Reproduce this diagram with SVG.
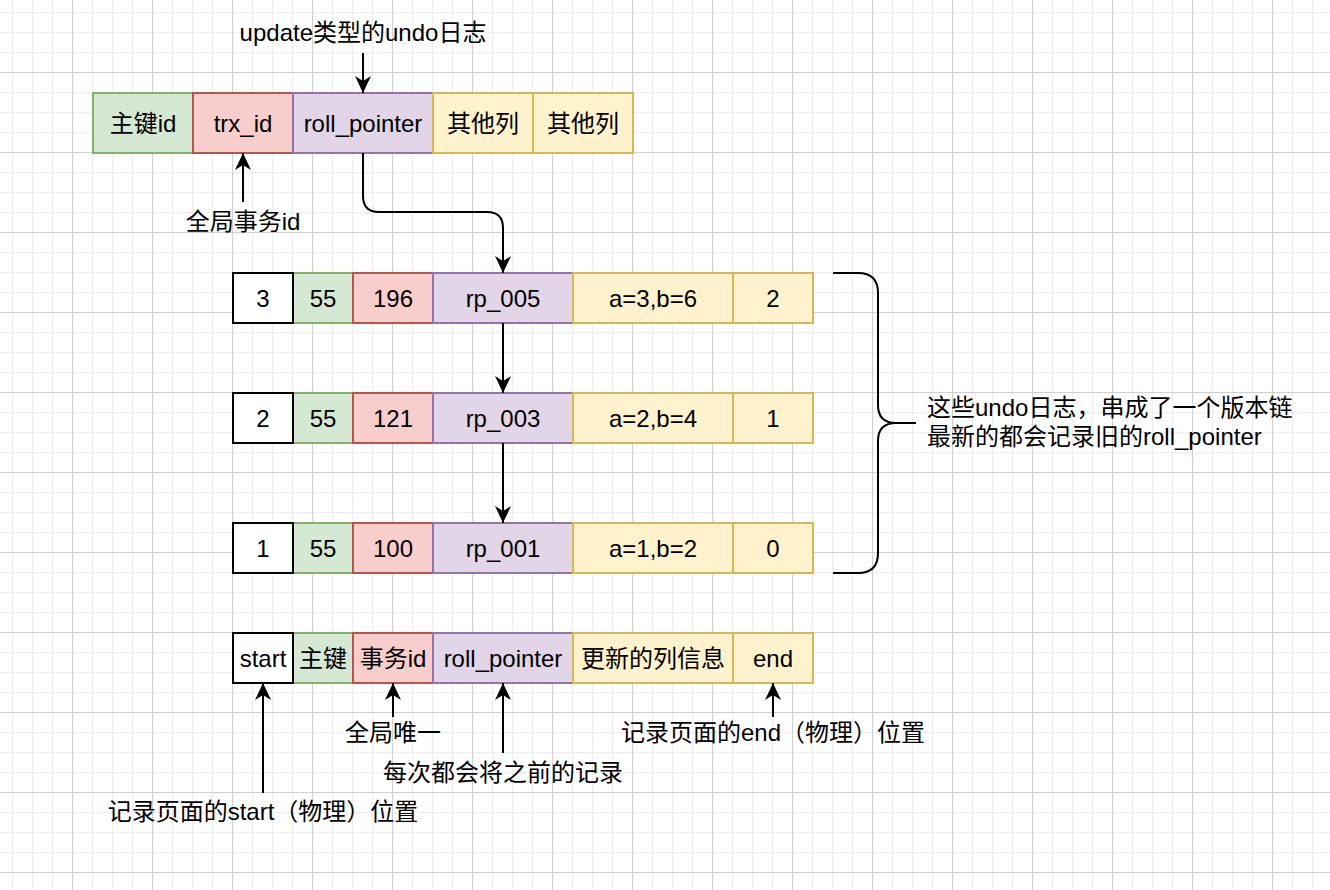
<svg xmlns="http://www.w3.org/2000/svg" width="1330" height="890" viewBox="0 0 1330 890">
<style>
text{font-family:"Liberation Sans","Noto Sans CJK SC",sans-serif;font-size:24px;fill:#000}
.c{text-anchor:middle}
.g rect{stroke-width:2}
.grn{fill:#d5e8d4;stroke:#82b366}
.red{fill:#f8cecc;stroke:#b85450}
.pur{fill:#e1d5e7;stroke:#9673a6}
.yel{fill:#fff2cc;stroke:#d6b656}
.wht{fill:#ffffff;stroke:#000000}
.conn path{fill:none;stroke:#000;stroke-width:2}
.arr{marker-end:url(#ah)}
</style>
<defs>
<pattern id="minor" x="12" y="12" width="20" height="20" patternUnits="userSpaceOnUse">
<path d="M0.5,0 V20 M0,0.5 H20" stroke="#efefef" stroke-width="1.5" fill="none"/>
</pattern>
<pattern id="major" x="72" y="72" width="80" height="80" patternUnits="userSpaceOnUse">
<path d="M0.5,0 V80 M0,0.5 H80" stroke="#d0d0d0" stroke-width="1" fill="none"/>
</pattern>
<marker id="ah" viewBox="0 0 17 16" refX="17" refY="8" markerWidth="17" markerHeight="16" markerUnits="userSpaceOnUse" orient="auto">
<path d="M0,0 L17,8 L0,16 L5,8 Z" fill="#000"/>
</marker>
</defs>
<rect width="1330" height="890" fill="#ffffff"/>
<rect width="1330" height="890" fill="url(#minor)"/>
<rect width="1330" height="890" fill="url(#major)"/>

<!-- top row -->
<g class="g" id="top-pk"><rect class="grn" x="93" y="93" width="100" height="60"/><text class="c" x="143" y="132">主键id</text></g>
<g class="g" id="top-trx"><rect class="red" x="193" y="93" width="100" height="60"/><text class="c" x="243" y="132">trx_id</text></g>
<g class="g" id="top-rp"><rect class="pur" x="293" y="93" width="140" height="60"/><text class="c" x="363" y="132">roll_pointer</text></g>
<g class="g" id="top-o1"><rect class="yel" x="433" y="93" width="100" height="60"/><text class="c" x="483" y="132">其他列</text></g>
<g class="g" id="top-o2"><rect class="yel" x="533" y="93" width="100" height="60"/><text class="c" x="583" y="132">其他列</text></g>

<g id="lbl-update"><text class="c" x="363" y="41">update类型的undo日志</text></g>
<g id="lbl-global-trx"><text class="c" x="243" y="230">全局事务id</text></g>

<!-- row 3 -->
<g class="g" id="r3-pk"><rect class="grn" x="293" y="273" width="60" height="50"/><text class="c" x="323" y="307">55</text></g>
<g class="g" id="r3-trx"><rect class="red" x="353" y="273" width="80" height="50"/><text class="c" x="393" y="307">196</text></g>
<g class="g" id="r3-rp"><rect class="pur" x="433" y="273" width="140" height="50"/><text class="c" x="503" y="307">rp_005</text></g>
<g class="g" id="r3-cols"><rect class="yel" x="573" y="273" width="160" height="50"/><text class="c" x="653" y="307">a=3,b=6</text></g>
<g class="g" id="r3-end"><rect class="yel" x="733" y="273" width="80" height="50"/><text class="c" x="773" y="307">2</text></g>
<g class="g" id="r3-start"><rect class="wht" x="233" y="273" width="60" height="50"/><text class="c" x="263" y="307">3</text></g>

<!-- row 2 -->
<g class="g" id="r2-pk"><rect class="grn" x="293" y="393" width="60" height="50"/><text class="c" x="323" y="427">55</text></g>
<g class="g" id="r2-trx"><rect class="red" x="353" y="393" width="80" height="50"/><text class="c" x="393" y="427">121</text></g>
<g class="g" id="r2-rp"><rect class="pur" x="433" y="393" width="140" height="50"/><text class="c" x="503" y="427">rp_003</text></g>
<g class="g" id="r2-cols"><rect class="yel" x="573" y="393" width="160" height="50"/><text class="c" x="653" y="427">a=2,b=4</text></g>
<g class="g" id="r2-end"><rect class="yel" x="733" y="393" width="80" height="50"/><text class="c" x="773" y="427">1</text></g>
<g class="g" id="r2-start"><rect class="wht" x="233" y="393" width="60" height="50"/><text class="c" x="263" y="427">2</text></g>

<!-- row 1 -->
<g class="g" id="r1-pk"><rect class="grn" x="293" y="523" width="60" height="50"/><text class="c" x="323" y="557">55</text></g>
<g class="g" id="r1-trx"><rect class="red" x="353" y="523" width="80" height="50"/><text class="c" x="393" y="557">100</text></g>
<g class="g" id="r1-rp"><rect class="pur" x="433" y="523" width="140" height="50"/><text class="c" x="503" y="557">rp_001</text></g>
<g class="g" id="r1-cols"><rect class="yel" x="573" y="523" width="160" height="50"/><text class="c" x="653" y="557">a=1,b=2</text></g>
<g class="g" id="r1-end"><rect class="yel" x="733" y="523" width="80" height="50"/><text class="c" x="773" y="557">0</text></g>
<g class="g" id="r1-start"><rect class="wht" x="233" y="523" width="60" height="50"/><text class="c" x="263" y="557">1</text></g>

<!-- legend row -->
<g class="g" id="lg-pk"><rect class="grn" x="293" y="633" width="60" height="50"/><text class="c" x="323" y="667">主键</text></g>
<g class="g" id="lg-trx"><rect class="red" x="353" y="633" width="80" height="50"/><text class="c" x="393" y="667">事务id</text></g>
<g class="g" id="lg-rp"><rect class="pur" x="433" y="633" width="140" height="50"/><text class="c" x="503" y="667">roll_pointer</text></g>
<g class="g" id="lg-cols"><rect class="yel" x="573" y="633" width="160" height="50"/><text class="c" x="653" y="667">更新的列信息</text></g>
<g class="g" id="lg-end"><rect class="yel" x="733" y="633" width="80" height="50"/><text class="c" x="773" y="667">end</text></g>
<g class="g" id="lg-start"><rect class="wht" x="233" y="633" width="60" height="50"/><text class="c" x="263" y="667">start</text></g>

<g id="lbl-unique"><text class="c" x="393" y="741">全局唯一</text></g>
<g id="lbl-prev"><text class="c" x="503" y="781">每次都会将之前的记录</text></g>
<g id="lbl-endpos"><text class="c" x="773" y="741">记录页面的end（物理）位置</text></g>
<g id="lbl-startpos"><text class="c" x="263" y="820">记录页面的start（物理）位置</text></g>

<g id="brace">
<path d="M833,273 H858 Q878,273 878,293 V405 Q878,423 896,423 H916 M896,423 Q878,423 878,441 V553 Q878,573 858,573 H833" fill="none" stroke="#000" stroke-width="2"/>
</g>
<g id="lbl-chain">
<text x="927" y="416">这些undo日志，串成了一个版本链</text>
<text x="927" y="445">最新的都会记录旧的roll_pointer</text>
</g>

<g class="conn" id="connectors">
<path class="arr" d="M363,53 V93"/>
<path class="arr" d="M243,202 V153"/>
<path class="arr" d="M363,153 V196 Q363,212 379,212 H487 Q503,212 503,228 V273"/>
<path class="arr" d="M503,323 V393"/>
<path class="arr" d="M503,443 V523"/>
<path class="arr" d="M263,793 V683"/>
<path class="arr" d="M393,717 V683"/>
<path class="arr" d="M503,753 V683"/>
<path class="arr" d="M773,717 V683"/>
</g>
</svg>
